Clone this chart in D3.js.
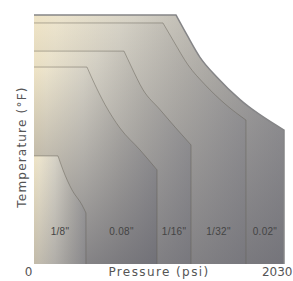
<!DOCTYPE html>
<html>
<head>
<meta charset="utf-8">
<script src="https://cdn.jsdelivr.net/npm/d3@7"></script>
<style>
  body { margin: 0; background: #fff; }
  svg { display: block; }
</style>
</head>
<body>
<div id="chart"></div>
<script>
// 畫布大小
const width = 293;
const height = 281;
const margin = { top: 15, right: 9, bottom: 17, left: 34 };

// 資料：外框到內層（壓力 psi, 溫度 相對值 0-100）
const sizeLabels = ['0.02"', '1/32"', '1/16"', '0.08"', '1/8"'];
const topTemps = [100, 96.8, 85.5, 79.1, 43.4];
const curve_002 = [[1153, 100], [1242, 92], [1348, 83], [1486, 75], [1673, 66], [2030, 53.8]];
const curve_132 = [[1047, 96.8], [1137, 89.2], [1250, 80], [1389, 72], [1551, 64.3], [1721, 57.8]];
const curve_116 = [[731, 85.5], [788, 79.5], [885, 70], [1023, 62], [1145, 55], [1275, 47.8]];
const curve_008 = [[430, 79.1], [495, 72], [577, 64], [698, 54.6], [861, 45.8], [999, 37.8]];
const curve_18 = [[195, 43.4], [235, 37.8], [309, 29.7], [390, 23.7], [422, 20.5]];
const curves = [curve_002, curve_132, curve_116, curve_008, curve_18];
const overlayOpacity = [0.6, 0.55, 0.55, 0.65, 0.3];
const pressureTicks = [0, 2030];

const x = d3.scaleLinear().domain([0, 2030]).range([margin.left, width - margin.right]);
const y = d3.scaleLinear().domain([0, 100]).range([height - margin.bottom, margin.top]);

const svg = d3.select("#chart").append("svg")
  .attr("width", width)
  .attr("height", height);

const defs = svg.append("defs");

const lineGen = d3.line()
  .x(d => x(d[0]))
  .y(d => y(d[1]))
  .curve(d3.curveMonotoneX);

// 區塊外形
function regionPath(top, curve, closed) {
  const last = curve[curve.length - 1];
  const c = lineGen(curve).replace(/^M/, "L");
  let s = `M${x(0)},${y(top)}` + c + `L${x(last[0])},${y(0)}`;
  if (closed) s = `M${x(0)},${y(0)}L${x(0)},${y(top)}` + c + `L${x(last[0])},${y(0)}Z`;
  return s;
}

const regions = sizeLabels.map((lab, i) => ({
  label: lab,
  top: topTemps[i],
  curve: curves[i],
  right: curves[i][curves[i].length - 1][0],
  left: i === 4 ? 0 : curves[i + 1][curves[i + 1].length - 1][0],
  op: overlayOpacity[i]
}));

regions.forEach((r, i) => {
  const hg = defs.append("linearGradient")
    .attr("id", "hg" + i)
    .attr("gradientUnits", "userSpaceOnUse")
    .attr("x1", x(0)).attr("x2", x(r.right))
    .attr("y1", 0).attr("y2", 0);
  hg.append("stop").attr("offset", 0).attr("stop-color", "#efe4c6");
  hg.append("stop").attr("offset", 0.1).attr("stop-color", "#ece4cd");
  hg.append("stop").attr("offset", 0.4).attr("stop-color", "#d6d2c6");
  hg.append("stop").attr("offset", 0.7).attr("stop-color", "#b8b5ae");
  hg.append("stop").attr("offset", 1).attr("stop-color", "#9c9b9c");

  const vg = defs.append("linearGradient")
    .attr("id", "vg" + i)
    .attr("gradientUnits", "userSpaceOnUse")
    .attr("x1", 0).attr("x2", 0)
    .attr("y1", y(r.top)).attr("y2", y(0));
  vg.append("stop").attr("offset", 0).attr("stop-color", "#5a5a64").attr("stop-opacity", 0);
  vg.append("stop").attr("offset", 1).attr("stop-color", "#5a5a64").attr("stop-opacity", r.op);
});

const g = svg.append("g");

regions.forEach((r, i) => {
  g.append("path")
    .attr("d", regionPath(r.top, r.curve, true))
    .attr("fill", `url(#hg${i})`);
  g.append("path")
    .attr("d", regionPath(r.top, r.curve, true))
    .attr("fill", `url(#vg${i})`);
  g.append("path")
    .attr("d", regionPath(r.top, r.curve, false))
    .attr("fill", "none")
    .attr("stroke", i === 0 ? "#858587" : "rgba(95,90,80,0.45)")
    .attr("stroke-width", i === 0 ? 1.5 : 1);
});

// 尺寸標籤
g.selectAll(".size-label")
  .data(regions)
  .join("text")
  .attr("class", "size-label")
  .attr("x", d => x((d.left + d.right) / 2))
  .attr("y", 235)
  .attr("text-anchor", "middle")
  .style("font-family", "'Liberation Sans', Arial, sans-serif")
  .style("font-size", "10px")
  .style("letter-spacing", "0.3px")
  .style("fill", "#444")
  .text(d => d.label);

// 座標軸
const xAxis = svg.append("g")
  .attr("transform", `translate(0,${height - margin.bottom})`)
  .call(d3.axisBottom(x).tickValues(pressureTicks).tickSize(0).tickFormat(d3.format("d")));
xAxis.select(".domain").remove();
xAxis.selectAll("text")
  .attr("y", 12)
  .attr("dy", 0)
  .style("font-family", "'DejaVu Sans', Verdana, sans-serif")
  .style("font-size", "12px")
  .style("fill", "#555");
xAxis.selectAll(".tick").filter(d => d === 0).select("text").attr("x", -6);
xAxis.selectAll(".tick").filter(d => d === 2030).select("text").attr("text-anchor", "end").attr("x", 8);

svg.append("text")
  .attr("x", 159)
  .attr("y", height - margin.bottom + 12)
  .attr("text-anchor", "middle")
  .style("font-family", "'DejaVu Sans', Verdana, sans-serif")
  .style("font-size", "12px")
  .style("letter-spacing", "1.4px")
  .style("fill", "#555")
  .text("Pressure (psi)");

svg.append("text")
  .attr("transform", "translate(26,147) rotate(-90)")
  .attr("text-anchor", "middle")
  .style("font-family", "'DejaVu Sans', Verdana, sans-serif")
  .style("font-size", "12px")
  .style("letter-spacing", "1.2px")
  .style("fill", "#555")
  .text("Temperature (°F)");
</script>
</body>
</html>
